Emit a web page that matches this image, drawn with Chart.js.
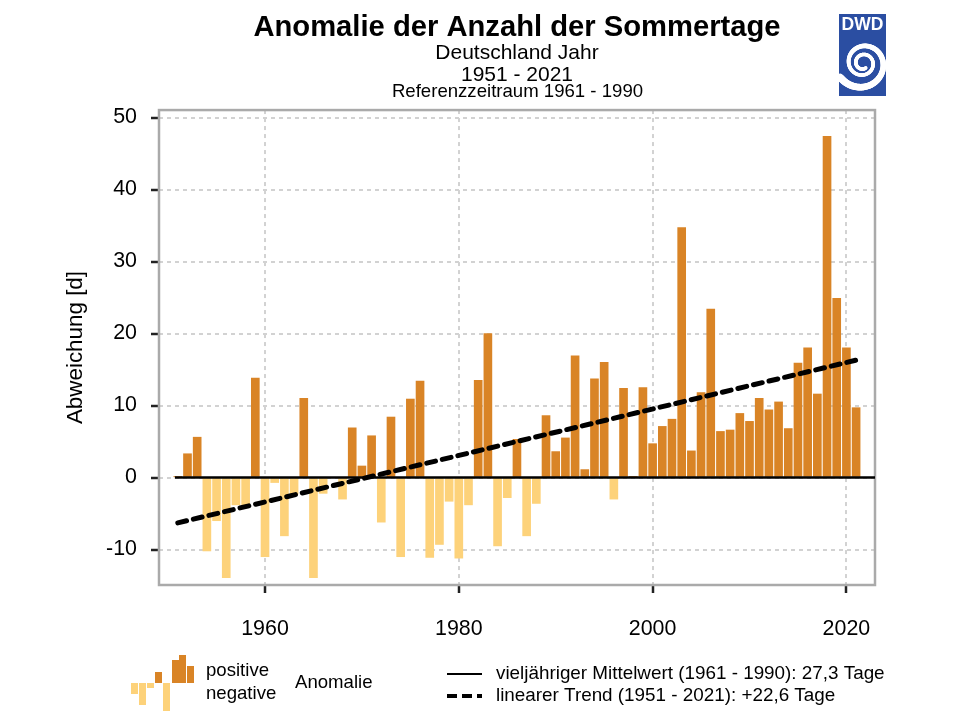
<!DOCTYPE html>
<html>
<head>
<meta charset="utf-8">
<style>
  html, body { margin: 0; padding: 0; background: #fff; }
  canvas { display: block; }
</style>
<script src="https://cdn.jsdelivr.net/npm/chart.js@4"></script>
</head>
<body>
<canvas id="chart" width="960" height="720"></canvas>
<script>
const years = [1951,1952,1953,1954,1955,1956,1957,1958,1959,1960,
  1961,1962,1963,1964,1965,1966,1967,1968,1969,1970,
  1971,1972,1973,1974,1975,1976,1977,1978,1979,1980,
  1981,1982,1983,1984,1985,1986,1987,1988,1989,1990,
  1991,1992,1993,1994,1995,1996,1997,1998,1999,2000,
  2001,2002,2003,2004,2005,2006,2007,2008,2009,2010,
  2011,2012,2013,2014,2015,2016,2017,2018,2019,2020,2021];
const anomalies = [0.1,3.3,5.6,-10.2,-6,-13.9,-3.8,-3.8,13.8,-11,
  -0.7,-8.1,-2.3,11,-13.9,-2.2,0,-3,6.9,1.6,
  5.8,-6.2,8.4,-11,10.9,13.4,-11.1,-9.3,-3.3,-11.2,
  -3.8,13.5,20,-9.5,-2.8,5.3,-8.1,-3.6,8.6,3.6,
  5.5,16.9,1.1,13.7,16,-3,12.4,0.1,12.5,4.7,
  7.1,8.1,34.7,3.7,11.8,23.4,6.4,6.6,8.9,7.8,
  11,9.4,10.5,6.8,15.9,18,11.6,47.4,24.9,18,9.7];
const trendYears = [1951, 2021];
const trendValues = [-6.3, 16.3];
const meanYears = [1950.7, 2022.95];
const meanValues = [0, 0];
const xTicks = [1960, 1980, 2000, 2020];
const yTicks = [-10, 0, 10, 20, 30, 40, 50];

const POS = '#d98426';
const NEG = '#fdd27a';
const FONT = '"Liberation Sans", Arial, sans-serif';

function pairs(xs, ys) { return xs.map((x, i) => ({x: x, y: ys[i]})); }

function text(ctx, s, x, y, size, bold, align, color) {
  ctx.font = (bold ? 'bold ' : '') + size + 'px ' + FONT;
  ctx.textAlign = align || 'left';
  ctx.textBaseline = 'middle';
  ctx.fillStyle = color || '#000';
  ctx.fillText(s, x, y);
}

// frame around the plot, top and right sides are not drawn by the axes
const framePlugin = {
  id: 'frame',
  beforeDatasetsDraw(chart) {
    const a = chart.chartArea, ctx = chart.ctx;
    ctx.save();
    ctx.strokeStyle = '#aaaaaa';
    ctx.lineWidth = 2.5;
    ctx.strokeRect(a.left, a.top, a.right - a.left, a.bottom - a.top);
    ctx.restore();
  }
};

function drawLogo(ctx) {
  ctx.save();
  ctx.fillStyle = '#2b4ea2';
  ctx.fillRect(839, 14, 47, 82);
  text(ctx, 'DWD', 862.5, 25, 17.5, true, 'center', '#fff');
  ctx.beginPath();
  ctx.rect(839, 14, 47, 82);
  ctx.clip();
  // swirl doubles its radius every turn, stroke gets thicker going out
  ctx.strokeStyle = '#fff';
  ctx.lineCap = 'round';
  let px = null, py = null;
  for (let deg = -660; deg <= 150; deg += 4) {
    const ang = deg * Math.PI / 180;
    const r = 17 * Math.pow(2, (deg + 90) / 360);
    const qx = 863 + r * Math.cos(ang);
    const qy = 63 + r * Math.sin(ang);
    if (px !== null) {
      ctx.lineWidth = Math.max(3.5, r * 0.27);
      ctx.beginPath();
      ctx.moveTo(px, py);
      ctx.lineTo(qx, qy);
      ctx.stroke();
    }
    px = qx;
    py = qy;
  }
  ctx.restore();
}

// logo, reference line of the heading and the legend block
const extrasPlugin = {
  id: 'extras',
  afterDraw(chart) {
    const ctx = chart.ctx;
    ctx.save();
    text(ctx, 'Referenzzeitraum 1961 - 1990', 517.5, 92, 18.6, false, 'center');
    drawLogo(ctx);

    // legend bars
    const legendBars = [
      [131, 683, 7, 11, NEG], [139, 683, 7, 22, NEG], [147, 683, 7, 5, NEG],
      [155, 672, 7, 11, POS], [163, 683, 7, 28, NEG], [172, 660, 7, 23, POS],
      [179, 655, 7, 28, POS], [187, 666, 7, 17, POS]
    ];
    legendBars.forEach(b => {
      ctx.fillStyle = b[4];
      ctx.fillRect(b[0], b[1], b[2], b[3]);
    });
    text(ctx, 'positive', 206, 671, 18.6);
    text(ctx, 'negative', 206, 694, 18.6);
    text(ctx, 'Anomalie', 295, 683, 18.6);

    ctx.strokeStyle = '#000';
    ctx.lineCap = 'butt';
    ctx.lineWidth = 2;
    ctx.beginPath();
    ctx.moveTo(447, 674);
    ctx.lineTo(482, 674);
    ctx.stroke();
    ctx.lineWidth = 4;
    ctx.setLineDash([10, 5]);
    ctx.beginPath();
    ctx.moveTo(447, 696);
    ctx.lineTo(482, 696);
    ctx.stroke();
    ctx.setLineDash([]);
    text(ctx, 'vieljähriger Mittelwert (1961 - 1990): 27,3 Tage', 496, 674, 18.85);
    text(ctx, 'linearer Trend (1951 - 2021): +22,6 Tage', 496, 696, 18.85);
    ctx.restore();
  }
};

new Chart(document.getElementById('chart').getContext('2d'), {
  type: 'bar',
  data: {
    datasets: [
      {
        type: 'line',
        data: pairs(trendYears, trendValues),
        borderColor: '#000',
        borderWidth: 5,
        borderDash: [9, 7],
        borderCapStyle: 'round',
        pointRadius: 0,
        order: 1
      },
      {
        type: 'line',
        data: pairs(meanYears, meanValues),
        borderColor: '#000',
        borderWidth: 2.5,
        pointRadius: 0,
        order: 2
      },
      {
        type: 'bar',
        data: pairs(years, anomalies),
        backgroundColor: c => (c.raw && c.raw.y < 0 ? NEG : POS),
        barThickness: 8,
        order: 3
      }
    ]
  },
  options: {
    responsive: false,
    animation: false,
    devicePixelRatio: 1,
    layout: { padding: { left: 0, right: 85, top: 0, bottom: 85 } },
    plugins: {
      legend: { display: false },
      tooltip: { enabled: false },
      title: {
        display: true,
        fullSize: false,
        text: 'Anomalie der Anzahl der Sommertage',
        color: '#000',
        font: { family: FONT, size: 29.2, weight: 'bold', lineHeight: 0.9 },
        padding: { top: 15, bottom: 0 }
      },
      subtitle: {
        display: true,
        fullSize: false,
        text: ['Deutschland Jahr', '1951 - 2021'],
        color: '#000',
        font: { family: FONT, size: 21, weight: 'normal', lineHeight: 1.09 },
        padding: { top: 0, bottom: 23 }
      }
    },
    scales: {
      x: {
        type: 'linear',
        offset: false,
        min: 1949.06,
        max: 2022.95,
        afterFit: s => { s.height = 50; },
        afterBuildTicks: s => { s.ticks = xTicks.map(v => ({value: v})); },
        grid: { offset: false, color: '#d2d2d2', lineWidth: 2, tickColor: '#222', tickLength: 8, tickWidth: 2.5, tickBorderDash: [] },
        border: { dash: [4, 4], display: false },
        ticks: {
          color: '#000',
          font: { family: FONT, size: 21.4 },
          padding: 23,
          autoSkip: false,
          maxRotation: 0,
          callback: v => String(v)
        }
      },
      y: {
        min: -14.93,
        max: 51.04,
        afterFit: s => { s.width = 159; },
        afterBuildTicks: s => { s.ticks = yTicks.map(v => ({value: v})); },
        grid: { color: '#d2d2d2', lineWidth: 2, tickColor: '#222', tickLength: 8, tickWidth: 2.5, tickBorderDash: [] },
        border: { dash: [4, 4], display: false },
        ticks: {
          color: '#000',
          font: { family: FONT, size: 21.4 },
          padding: 14,
          autoSkip: false,
          callback: v => String(v)
        },
        title: {
          display: true,
          text: 'Abweichung [d]',
          color: '#000',
          font: { family: FONT, size: 22.4 },
          padding: { top: 62, bottom: 0 }
        }
      }
    }
  },
  plugins: [framePlugin, extrasPlugin]
});
</script>
</body>
</html>
